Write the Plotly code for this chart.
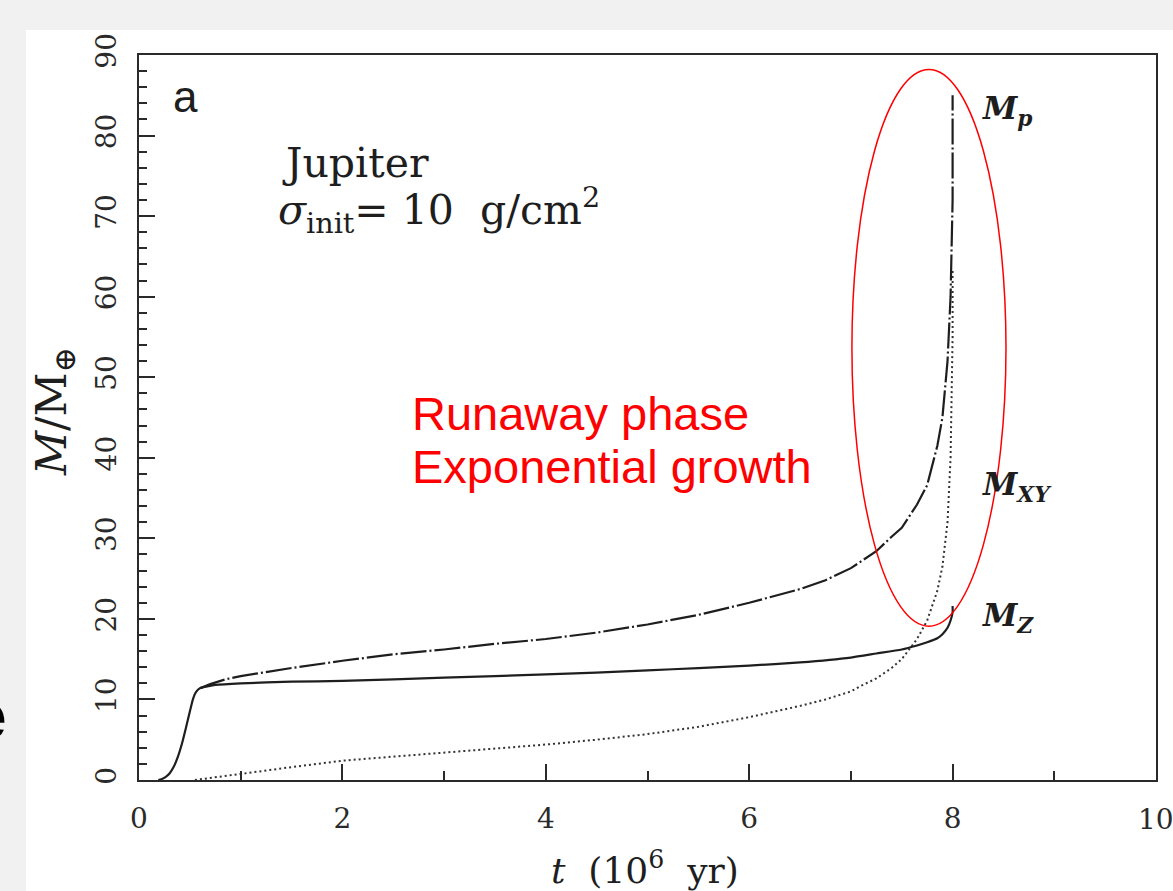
import plotly.graph_objects as go

# ---- data (t in 10^6 yr, M in Earth masses) ----
t_core = [0.19, 0.22, 0.26, 0.30, 0.34, 0.38, 0.42, 0.46, 0.50, 0.53, 0.56, 0.60, 0.66,
          0.75, 1.0, 1.5, 2.0, 3.0, 4.0, 5.0, 5.5, 6.0, 6.5, 7.0, 7.25, 7.5, 7.65, 7.75,
          7.85, 7.9, 7.95, 7.98, 8.0, 8.0]
m_core = [0.0, 0.1, 0.35, 0.8, 1.6, 2.8, 4.4, 6.4, 8.5, 10.0, 10.9, 11.4, 11.6,
          11.8, 12.0, 12.2, 12.3, 12.7, 13.1, 13.6, 13.9, 14.2, 14.6, 15.2, 15.7, 16.2, 16.7, 17.1,
          17.6, 18.1, 18.9, 19.8, 20.8, 21.6]

t_gas = [0.55, 1.0, 1.5, 2.0, 2.5, 3.0, 3.5, 4.0, 4.5, 5.0, 5.5, 6.0, 6.5, 6.75, 7.0, 7.1,
         7.25, 7.4, 7.5, 7.65, 7.75, 7.85, 7.9, 7.95, 7.98, 7.99, 8.0, 8.0]
m_gas = [0.0, 0.8, 1.6, 2.4, 2.9, 3.4, 3.9, 4.4, 5.0, 5.7, 6.6, 7.8, 9.2, 10.0, 11.0, 11.7,
         12.6, 13.9, 15.0, 17.5, 19.8, 23.5, 26.5, 32.0, 40.0, 46.0, 55.0, 63.5]

t_total = [0.6, 0.7, 0.85, 1.0, 1.5, 2.0, 2.5, 3.0, 3.5, 4.0, 4.5, 5.0, 5.5, 6.0, 6.5,
           6.75, 7.0, 7.1, 7.25, 7.4, 7.5, 7.65, 7.75, 7.85, 7.9, 7.95, 7.98, 8.0, 8.0]
m_total = [11.4, 11.9, 12.5, 12.9, 13.9, 14.8, 15.6, 16.2, 16.9, 17.5, 18.3, 19.3, 20.5,
           22.0, 23.7, 24.8, 26.3, 27.1, 28.4, 30.2, 31.3, 34.2, 36.6, 41.5, 45.0, 52.0, 60.0,
           72.0, 85.0]

x_ticks = [0, 2, 4, 6, 8, 10]
y_ticks = [0, 10, 20, 30, 40, 50, 60, 70, 80, 90]

INK = "#1e1e1e"
AX = "#2a2a2a"
SERIF = "DejaVu Serif, Liberation Serif, serif"
SANS = "Liberation Sans, Arial, sans-serif"

W, H = 1173, 891
L, R, T, B = 139, 17, 55, 111
PW, PH = W - L - R, H - T - B


def px(xp):
    return (xp - L) / PW


def py(yp):
    return (H - B - yp) / PH


fig = go.Figure()
fig.add_trace(go.Scatter(x=t_core, y=m_core, mode="lines",
                         line=dict(color=INK, width=2.2, shape="spline", smoothing=0.5),
                         name="M_Z"))
fig.add_trace(go.Scatter(x=t_gas, y=m_gas, mode="lines",
                         line=dict(color="#333333", width=2, dash="2px,3px"), name="M_XY"))
fig.add_trace(go.Scatter(x=t_total, y=m_total, mode="lines",
                         line=dict(color=INK, width=2.2, dash="26px,3px,2px,3px"), name="M_p"))

axis_common = dict(showline=True, linecolor=AX, linewidth=2, mirror=True,
                   showgrid=False, zeroline=False, ticks="inside", tickcolor=AX,
                   tickwidth=2, ticklen=16, automargin=False,
                   tickfont=dict(family=SERIF, size=28, color=AX))

# the last x label (10) is cut by the page edge, so it is drawn as an annotation below
x_ticktext = [str(v) for v in x_ticks[:-1]] + [""]

fig.update_xaxes(range=[0, 10], tickvals=x_ticks, ticktext=x_ticktext,
                 ticklabelstandoff=12,
                 minor=dict(dtick=1, tick0=0, ticks="inside", ticklen=9, tickwidth=2,
                            tickcolor=AX, showgrid=False),
                 **axis_common)
fig.update_yaxes(range=[0, 90], tickvals=y_ticks, ticktext=[str(v) for v in y_ticks],
                 tickangle=-90, ticklabelstandoff=10,
                 minor=dict(dtick=2, tick0=0, ticks="inside", ticklen=8, tickwidth=2,
                            tickcolor=AX, showgrid=False),
                 **axis_common)

shapes = [
    # white slide area behind the figure
    dict(type="rect", xref="paper", yref="paper", x0=px(26), x1=px(1180),
         y0=py(30), y1=py(900), fillcolor="white", line=dict(width=0), layer="below"),
    # red ellipse around runaway phase
    dict(type="circle", xref="x", yref="y", x0=7.01, x1=8.525, y0=19.1, y1=88.2,
         line=dict(color="#ff0000", width=1.5), layer="above"),
]


def note(xp, yp, text, size, family=SERIF, color=INK, xanchor="center", angle=0):
    return dict(x=px(xp), y=py(yp), xref="paper", yref="paper", text=text,
                xanchor=xanchor, yanchor="middle", textangle=angle, showarrow=False,
                font=dict(family=family, size=size, color=color))


ann = [
    note(185, 97, "a", 44, family=SANS),
    note(280, 163, "Jupiter", 41, xanchor="left"),
    note(276, 210, "<i>σ</i><sub>init</sub>= 10  g/cm<sup>2</sup>", 41, xanchor="left"),
    note(410, 414, "Runaway phase", 47, family=SANS, color="#ff0000", xanchor="left"),
    note(410, 466, "Exponential growth", 47, family=SANS, color="#ff0000", xanchor="left"),
    note(980, 110, "<b><i>M<sub>p</sub></i></b>", 31, xanchor="left"),
    note(980, 487, "<b><i>M<sub>XY</sub></i></b>", 31, xanchor="left"),
    note(980, 617, "<b><i>M<sub>Z</sub></i></b>", 31, xanchor="left"),
    # axis titles
    note(54, 412, "<i>M</i>/M<sub>⊕</sub>", 43, angle=-90),
    note(645, 868, "<i>t</i>  (10<sup>6</sup>  yr)", 36),
    # cut-off slide letter on the left edge
    note(9, 716, "<b>e</b>", 66, family=SANS, color="black", xanchor="right"),
    # last x tick label, partly beyond the page edge as in the reference
    dict(x=x_ticks[-1], xref="x", y=py(819), yref="paper", text=str(x_ticks[-1]),
         xanchor="center", yanchor="middle", showarrow=False,
         font=dict(family=SERIF, size=28, color=AX)),
]

fig.update_layout(width=W, height=H, margin=dict(l=L, r=R, t=T, b=B),
                  paper_bgcolor="#f1f1f1", plot_bgcolor="white",
                  showlegend=False, shapes=shapes, annotations=ann)

fig.write_html("out.html", config={"displayModeBar": False})
